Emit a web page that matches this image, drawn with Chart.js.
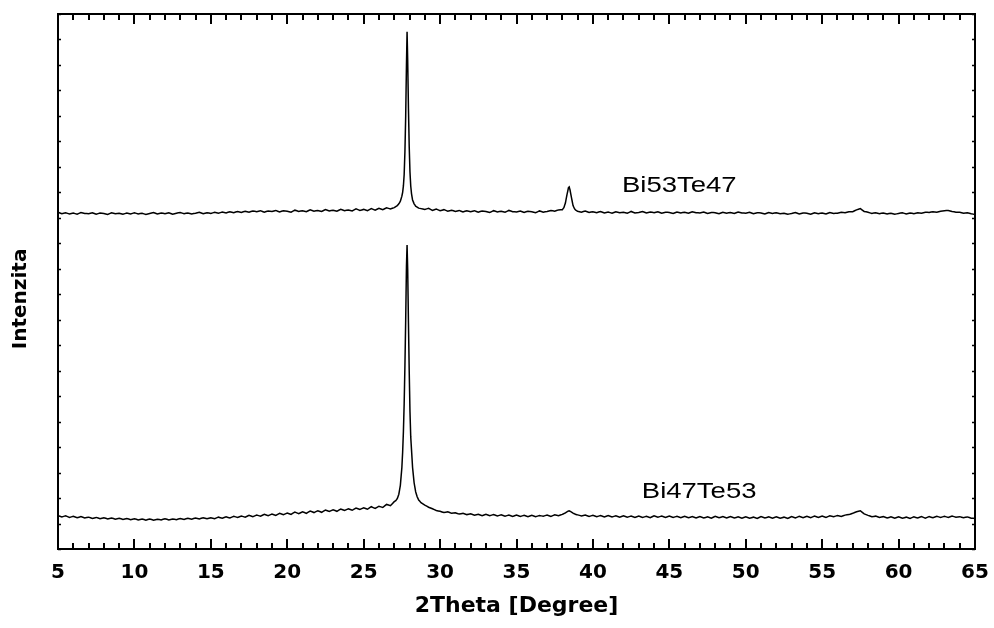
<!DOCTYPE html>
<html>
<head>
<meta charset="utf-8">
<script src="https://cdn.jsdelivr.net/npm/chart.js@4.4.1/dist/chart.umd.min.js"></script>
<style>
  html, body { margin: 0; padding: 0; background: #fff; }
  #wrap { width: 994px; height: 628px; }
</style>
</head>
<body>
<div id="wrap"><canvas id="c" width="994" height="628"></canvas></div>
<script>
// ---- 2Theta positions (degrees) ----
const theta = [
  5,5.25,5.5,5.75, 6,6.25,6.5,6.75, 7,7.25,7.5,7.75, 8,8.25,8.5,8.75,
  9,9.25,9.5,9.75, 10,10.25,10.5,10.75, 11,11.25,11.5,11.75, 12,12.25,12.5,12.75,
  13,13.25,13.5,13.75, 14,14.25,14.5,14.75, 15,15.25,15.5,15.75, 16,16.25,16.5,16.75,
  17,17.25,17.5,17.75, 18,18.25,18.5,18.75, 19,19.25,19.5,19.75, 20,20.25,20.5,20.75,
  21,21.25,21.5,21.75, 22,22.25,22.5,22.75, 23,23.25,23.5,23.75, 24,24.25,24.5,24.75,
  25,25.25,25.5,25.75, 26,26.25,26.5,26.75,
  27,27.1,27.2,27.3,27.4,27.5,27.55,27.6,27.65,27.7,27.75,27.8,27.84,27.88,27.93,27.98,
  28.03,28.08,28.13,28.2,28.3,28.4,28.5,28.6,28.75,
  29,29.25,29.5,29.75, 30,30.25,30.5,30.75, 31,31.25,31.5,31.75, 32,32.25,32.5,32.75,
  33,33.25,33.5,33.75, 34,34.25,34.5,34.75, 35,35.25,35.5,35.75, 36,36.25,36.5,36.75,
  37,37.25,37.5,37.75,
  38,38.1,38.2,38.3,38.4,38.45,38.5,38.6,38.7,38.8,38.9,
  39,39.25,39.5,39.75, 40,40.25,40.5,40.75, 41,41.25,41.5,41.75, 42,42.25,42.5,42.75,
  43,43.25,43.5,43.75, 44,44.25,44.5,44.75, 45,45.25,45.5,45.75, 46,46.25,46.5,46.75,
  47,47.25,47.5,47.75, 48,48.25,48.5,48.75, 49,49.25,49.5,49.75, 50,50.25,50.5,50.75,
  51,51.25,51.5,51.75, 52,52.25,52.5,52.75, 53,53.25,53.5,53.75, 54,54.25,54.5,54.75,
  55,55.25,55.5,55.75, 56,56.25,56.5,56.75, 57,57.25,57.5,57.75, 58,58.25,58.5,58.75,
  59,59.25,59.5,59.75, 60,60.25,60.5,60.75, 61,61.25,61.5,61.75, 62,62.25,62.5,62.75,
  63,63.25,63.5,63.75, 64,64.25,64.5,64.75, 65
];

// ---- Intensity, Bi53Te47 (upper pattern) ----
const bi53te47 = [
  1322,1316,1320,1315, 1319,1314,1321,1317, 1316,1320,1314,1319, 1317,1313,1320,1316,
  1318,1314,1319,1315, 1320,1315,1318,1313, 1317,1321,1315,1319, 1316,1320,1314,1318,
  1321,1316,1319,1315, 1318,1322,1316,1320, 1317,1322,1318,1323, 1319,1324,1320,1325,
  1321,1326,1322,1327, 1324,1328,1322,1327, 1325,1329,1323,1328, 1326,1322,1330,1325,
  1328,1324,1331,1326, 1329,1325,1332,1327, 1330,1326,1333,1328, 1331,1327,1335,1329,
  1333,1328,1336,1330, 1337,1332,1339,1335,
  1340,1344,1348,1355,1365,1385,1400,1425,1470,1560,1700,1900,2030,1920,1730,1580,
  1480,1425,1395,1370,1355,1346,1342,1338,1336,
  1333,1337,1329,1334, 1328,1332,1326,1330, 1325,1329,1323,1328, 1324,1328,1322,1327,
  1325,1321,1328,1323, 1326,1322,1329,1324, 1323,1327,1321,1326, 1324,1320,1327,1322,
  1325,1329,1326,1331,
  1332,1340,1358,1390,1418,1421,1410,1378,1348,1335,1329,
  1326,1322,1327,1321, 1324,1320,1325,1319, 1323,1318,1324,1320, 1322,1318,1325,1319,
  1321,1325,1319,1323, 1320,1324,1318,1322, 1321,1317,1323,1319, 1322,1318,1324,1320,
  1319,1323,1317,1321, 1320,1316,1322,1318, 1321,1317,1323,1319, 1318,1322,1316,1320,
  1319,1315,1321,1317, 1320,1316,1318,1314, 1317,1321,1315,1319, 1318,1314,1320,1316,
  1319,1315,1321,1317, 1318,1322,1320,1324, 1324,1331,1336,1325, 1322,1317,1320,1316,
  1319,1315,1318,1314, 1317,1320,1315,1319, 1316,1320,1318,1322, 1321,1324,1322,1326,
  1328,1329,1325,1322, 1322,1318,1320,1316, 1313
];

// ---- Intensity, Bi47Te53 (lower pattern) ----
const bi47te53 = [
  131,126,130,124, 128,123,127,122, 125,120,124,119, 123,118,122,117,
  121,116,120,115, 119,114,118,113, 118,113,117,114, 119,114,118,115,
  120,116,121,117, 122,118,123,119, 123,119,125,121, 126,122,128,124,
  129,125,132,127, 133,129,136,131, 137,132,140,135, 141,136,145,139,
  146,140,149,143, 150,144,153,147, 154,148,157,151, 158,152,161,155,
  162,156,166,159, 168,163,175,170,
  186,190,198,215,250,320,380,460,570,720,900,1110,1193,1100,890,700,
  540,440,390,320,260,225,205,192,182,
  172,164,158,151, 148,143,146,140, 142,137,140,135, 138,133,136,131,
  136,131,135,130, 134,129,133,128, 133,128,132,127, 132,127,131,129,
  133,128,134,131,
  136,139,142,146,149,150,148,145,141,138,135,
  134,130,133,128, 132,127,131,126, 131,126,130,125, 130,125,129,124,
  129,124,128,123, 130,125,129,124, 129,124,128,123, 128,123,127,122,
  127,122,126,121, 128,123,127,122, 127,122,126,121, 126,121,125,120,
  127,122,126,121, 126,121,125,120, 127,122,128,123, 128,123,129,124,
  129,124,130,127, 131,128,133,135, 140,146,150,138, 132,127,129,124,
  127,122,126,121, 126,121,125,120, 126,122,127,121, 127,123,128,124,
  128,124,129,125, 127,123,126,121, 120
];

// ---- Axis / label texts ----
const xTicks = [5, 10, 15, 20, 25, 30, 35, 40, 45, 50, 55, 60, 65];
const xTitle = '2Theta [Degree]';
const yTitle = 'Intenzita';
const seriesNames = ['Bi53Te47', 'Bi47Te53'];
const labelAnchors = [[41.9, 1401], [43.2, 200]]; // data-space anchors of the pattern names

const toPoints = (ys) => theta.map((t, i) => ({ x: t, y: ys[i] }));

const frame = {
  id: 'frame',
  afterDatasetsDraw(chart) {
    const { ctx, chartArea: a, scales: { x, y } } = chart;
    ctx.save();
    ctx.strokeStyle = '#000';
    ctx.lineCap = 'butt';
    // inward ticks on x (bottom and top)
    ctx.lineWidth = 2;
    for (let v = 5; v <= 65; v += 1) {
      const px = Math.round(x.getPixelForValue(v));
      const len = (v % 5 === 0) ? 10 : 6;
      ctx.beginPath();
      ctx.moveTo(px, a.bottom); ctx.lineTo(px, a.bottom - len);
      ctx.moveTo(px, a.top); ctx.lineTo(px, a.top + len);
      ctx.stroke();
    }
    // inward ticks on y (left and right)
    ctx.lineWidth = 1.5;
    for (let v = 0; v <= 2100; v += 100) {
      const py = Math.round(y.getPixelForValue(v)) + 0.5;
      ctx.beginPath();
      ctx.moveTo(a.left, py); ctx.lineTo(a.left + 3, py);
      ctx.moveTo(a.right, py); ctx.lineTo(a.right - 3, py);
      ctx.stroke();
    }
    // box
    ctx.lineWidth = 2;
    ctx.strokeRect(a.left, a.top, a.right - a.left, a.bottom - a.top);
    // pattern names
    ctx.fillStyle = '#000';
    ctx.font = '22px "Liberation Sans", Arial, sans-serif';
    ctx.textBaseline = 'alphabetic';
    ctx.textAlign = 'left';
    seriesNames.forEach((name, i) => {
      const px = x.getPixelForValue(labelAnchors[i][0]);
      const py = y.getPixelForValue(labelAnchors[i][1]);
      ctx.save();
      ctx.translate(px, py);
      ctx.scale(1.25, 1);
      ctx.fillText(name, 0, 0);
      ctx.restore();
    });
    ctx.restore();
  }
};

new Chart(document.getElementById('c'), {
  type: 'line',
  data: {
    datasets: [
      { label: seriesNames[0], data: toPoints(bi53te47), borderColor: '#000', borderWidth: 1.5, pointRadius: 0, tension: 0.0001, fill: false },
      { label: seriesNames[1], data: toPoints(bi47te53), borderColor: '#000', borderWidth: 1.5, pointRadius: 0, tension: 0.0001, fill: false }
    ]
  },
  options: {
    responsive: false,
    animation: false,
    devicePixelRatio: 1,
    layout: { padding: { top: 14, right: 19, left: 0, bottom: 0 } },
    plugins: { legend: { display: false }, tooltip: { enabled: false } },
    scales: {
      x: {
        type: 'linear', min: 5, max: 65,
        afterBuildTicks: (s) => { s.ticks = xTicks.map(v => ({ value: v })); },
        afterFit: (s) => { s.height = 79; s.paddingLeft = 0; s.paddingRight = 0; },
        grid: { display: false, drawTicks: false },
        border: { display: false },
        ticks: { color: '#000', padding: 12, maxRotation: 0, autoSkip: false,
                 font: { family: '"DejaVu Sans", sans-serif', weight: 'bold', size: 20 } },
        title: { display: true, text: xTitle, color: '#000', padding: { top: 0, bottom: 9 },
                 font: { family: '"DejaVu Sans", sans-serif', weight: 'bold', size: 22 } }
      },
      y: {
        type: 'linear', min: 0, max: 2100,
        afterFit: (s) => { s.width = 58; s.paddingTop = 0; s.paddingBottom = 0; },
        grid: { display: false, drawTicks: false },
        border: { display: false },
        ticks: { display: false, stepSize: 100 },
        title: { display: true, text: yTitle + '     ', color: '#000', padding: { top: 9, bottom: 0 },
                 font: { family: '"DejaVu Sans", sans-serif', weight: 'bold', size: 20 } }
      }
    }
  },
  plugins: [frame]
});
</script>
</body>
</html>
